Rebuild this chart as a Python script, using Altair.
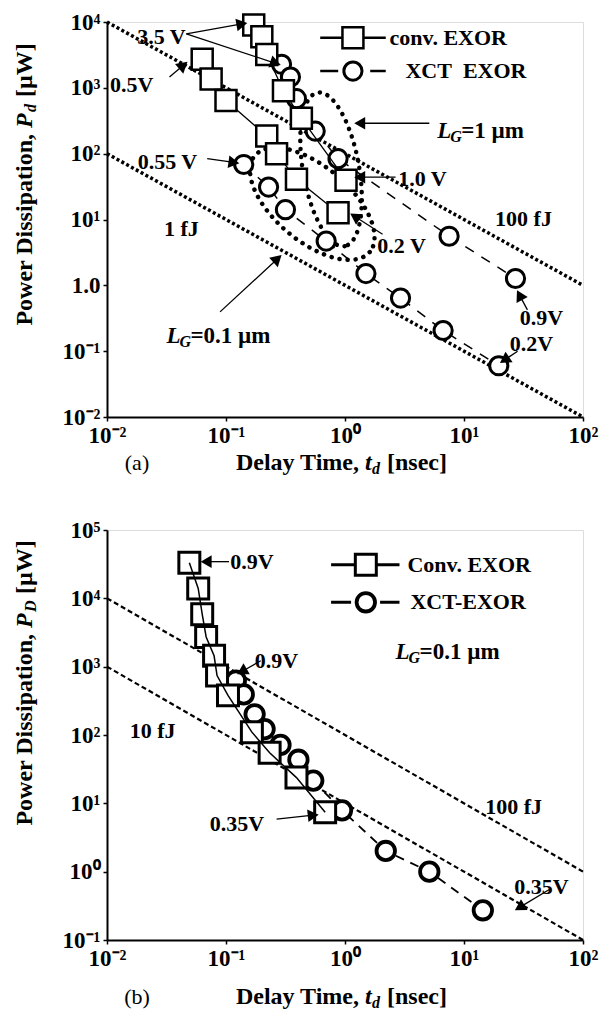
import math
import altair as alt
import pandas as pd

FONT = "Liberation Serif"

# ---------------- Panel (a) data ----------------
a_conv1_t = [0.171, 0.200, 0.220, 0.304, 0.430, 1.02]
a_conv1_p = [9020, 5970, 3215, 902, 345, 39.5]
a_conv01_t = [0.0631, 0.075, 0.100, 0.220, 0.266, 0.391, 0.874]
a_conv01_p = [2710, 1363, 640, 186, 100, 40.9, 12.7]
a_xct1_t = [0.293, 0.348, 0.391, 0.562, 0.874, 7.50, 27.1]
a_xct1_p = [2280, 1459, 685, 220, 84, 5.57, 1.27]
a_xct01_t = [0.141, 0.228, 0.316, 0.695, 1.50, 2.93, 6.68, 19.6]
a_xct01_p = [68.5, 31.1, 14.1, 4.7, 1.51, 0.64, 0.206, 0.060]

energy_t = [0.01, 100]
a_100fJ_p = [10000, 1]
a_1fJ_p = [100, 0.01]

# ---------------- Panel (b) data ----------------
b_conv_t = [0.0492, 0.0584, 0.0631, 0.0681, 0.0794, 0.0841, 0.1039, 0.165, 0.2326, 0.391, 0.681]
b_conv_p = [33200, 13960, 5860, 2720, 1443, 741, 380, 110, 54.8, 23.8, 7.4]
b_xct_t = [0.121, 0.141, 0.174, 0.211, 0.287, 0.406, 0.541, 0.944, 2.20, 5.11, 14.4]
b_xct_p = [627, 393, 201, 122, 71.6, 43.5, 21.5, 7.9, 2.01, 1.0, 0.272]
b_100fJ_p = [10000, 1]
b_10fJ_p = [1000, 0.1]

# ---------------- ticks ----------------
x_ticks = [0.01, 0.1, 1, 10, 100]
x_tick_labels = ["10⁻²", "10⁻¹", "10⁰", "10¹", "10²"]
a_y_ticks = [0.01, 0.1, 1, 10, 100, 1000, 10000]
a_y_tick_labels = ["10⁻²", "10⁻¹", "1.0", "10¹", "10²", "10³", "10⁴"]
b_y_ticks = [0.1, 1, 10, 100, 1000, 10000, 100000]
b_y_tick_labels = ["10⁻¹", "10⁰", "10¹", "10²", "10³", "10⁴", "10⁵"]

# ---------------- annotations (data coordinates) ----------------
a_note_text = ["3.5 V", "0.5V", "0.55 V", "1 fJ", "1.0 V", "0.2 V", "100 fJ", "0.9V", "0.2V"]
a_note_t = [0.0287, 0.01616, 0.0322, 0.0422, 4.47, 2.99, 31.6, 44.7, 36.9]
a_note_p = [5970, 1110, 73.5, 7.1, 40.9, 3.95, 10.35, 0.321, 0.127]

a_arrow_t0 = [0.0464, 0.0464, 0.0335, 0.0695, 5.11, 2.66, 2.07, 34.1, 28.2, 0.0891]
a_arrow_p0 = [6620, 6620, 1459, 84.1, 290, 43.9, 5.97, 0.424, 0.1, 0.395]
a_arrow_t1 = [0.136, 0.261, 0.0438, 0.1166, 1.33, 1.33, 1.21, 29.3, 21.9, 0.271]
a_arrow_p1 = [9330, 2360, 2200, 73.5, 290, 43.9, 11.1, 0.71, 0.0734, 2.53]

a_lg_sub = ["G", "G"]
a_lg_rest = ["=1 µm", "=0.1 µm"]
a_lg_t = [5.96, 0.0316]
a_lg_p = [220, 0.1675]

a_ell_t = [0.764, 0.531]
a_ell_p = [57.7, 17.3]

a_leg_labels = ["conv. EXOR", "XCT\u00a0\u00a0EXOR"]
a_leg_t0 = [0.619, 0.619]
a_leg_t1 = [2.20, 2.20]
a_leg_tm = [1.166, 1.166]
a_leg_tt = [2.37, 3.22]
a_leg_p = [5770, 1795]

b_note_text = ["0.9V", "0.9V", "0.35V", "10 fJ", "100 fJ", "0.35V"]
b_note_t = [0.165, 0.266, 0.1235, 0.0242, 26.1, 44.7]
b_note_p = [34400, 1222, 4.97, 114, 8.75, 0.606]

b_arrow_t0 = [0.106, 0.196, 0.266, 52.1]
b_arrow_p0 = [34400, 1222, 5.86, 0.548]
b_arrow_t1 = [0.0681, 0.136, 0.541, 29.3]
b_arrow_p1 = [34400, 848, 6.70, 0.30]

b_lg_sub = ["G"]
b_lg_rest = ["=0.1 µm"]
b_lg_t = [2.66]
b_lg_p = [1648]

b_leg_labels = ["Conv. EXOR", "XCT-EXOR"]
b_leg_t0 = [0.764, 0.764]
b_leg_t1 = [2.87, 2.87]
b_leg_tm = [1.496, 1.496]
b_leg_tt = [3.35, 3.55]
b_leg_p = [31100, 8750]

# ---------------- layout / style ----------------
W = 476
HA = 395
HB = 410
X_DOM = [0.01, 100]
A_DOM = [0.01, 10000]
B_DOM = [0.1, 100000]
TICK_FS = 23
TITLE_FS = 24
NOTE_FS = 22
SUB_FS = 16


def label_expr(values, labels):
    expr = f"'{labels[-1]}'"
    for v, l in reversed(list(zip(values[:-1], labels[:-1]))):
        expr = f"datum.value < {v * math.sqrt(10):.6g} ? '{l}' : ({expr})"
    return expr


def make_axis(values, labels):
    return alt.Axis(values=values, labelExpr=label_expr(values, labels), title=None, grid=False,
                    ticks=True, tickSize=4, tickColor="black", tickWidth=1.5,
                    domainColor="black", domainWidth=2, labelFont=FONT, labelFontSize=TICK_FS,
                    labelFontWeight="bold", labelColor="black", labelPadding=3,
                    labelFlush=False, labelOverlap=False)


def to_px(t, p, ydom, h):
    x = W * (math.log10(t) - math.log10(X_DOM[0])) / (math.log10(X_DOM[1]) - math.log10(X_DOM[0]))
    lo, hi = math.log10(ydom[0]), math.log10(ydom[1])
    y = h * (hi - math.log10(p)) / (hi - lo)
    return x, y


def ellipse_path(ratio, deg, n=72):
    th = math.radians(deg)
    pts = []
    for i in range(n):
        a = 2 * math.pi * i / n
        x, y = math.cos(a), ratio * math.sin(a)
        pts.append(f"{x * math.cos(th) - y * math.sin(th):.4f},{x * math.sin(th) + y * math.cos(th):.4f}")
    return "M" + " L".join(pts) + " Z"


def txt(s, x, y, angle=0, align="left", dx=0, dy=0, italic=False, size=TITLE_FS, weight="bold"):
    return alt.Chart(pd.DataFrame({"s": [s]})).mark_text(
        font=FONT, fontSize=size, fontWeight=weight, fontStyle="italic" if italic else "normal",
        align=align, baseline="middle", angle=angle, dx=dx, dy=dy, color="black"
    ).encode(x=alt.value(x), y=alt.value(y), text="s:N")


def build_panel(cfg):
    xs = alt.Scale(type="log", domain=X_DOM)
    ys = alt.Scale(type="log", domain=cfg["ydom"])
    xa = make_axis(x_ticks, x_tick_labels)
    ya = make_axis(cfg["yticks"], cfg["ylabels"])

    def X(f):
        return alt.X(f"{f}:Q", scale=xs, axis=xa)

    def Y(f):
        return alt.Y(f"{f}:Q", scale=ys, axis=ya)

    layers = []
    # iso-energy lines
    for pvals in cfg["energy"]:
        df = pd.DataFrame({"t": energy_t, "P": pvals})
        layers.append(alt.Chart(df).mark_line(color="black", **cfg["energy_style"]).encode(x=X("t"), y=Y("P")))
    # dotted ellipses
    for i, (ratio, deg, semi) in enumerate(cfg.get("ellipses", [])):
        df = pd.DataFrame({"t": [a_ell_t[i]], "P": [a_ell_p[i]]})
        layers.append(alt.Chart(df).mark_point(
            shape=ellipse_path(ratio, deg), size=(2 * semi) ** 2, filled=False, color="black",
            strokeWidth=4.5, strokeDash=[0.1, 8], strokeCap="round", opacity=1
        ).encode(x=X("t"), y=Y("P")))

    # series
    for s in cfg["series"]:
        df = pd.DataFrame({"t": s["t"], "P": s["p"]})
        lkw = dict(color="black", strokeWidth=s["lw"])
        if s.get("dash"):
            lkw["strokeDash"] = s["dash"]
        line = alt.Chart(df).mark_line(**lkw).encode(x=X("t"), y=Y("P"))
        pts = alt.Chart(df).mark_point(shape=s["shape"], size=s["size"], filled=True, fill="white",
                                       stroke="black", strokeWidth=s["sw"], opacity=1
                                       ).encode(x=X("t"), y=Y("P"))
        if s.get("line_on_top"):
            layers += [pts, line]
        else:
            layers += [line, pts]

    # arrows
    t0, p0, t1, p1 = cfg["arrows"]
    angs = []
    for a, b, c, d in zip(t0, p0, t1, p1):
        x0, y0 = to_px(a, b, cfg["ydom"], cfg["h"])
        x1, y1 = to_px(c, d, cfg["ydom"], cfg["h"])
        angs.append(math.degrees(math.atan2(y1 - y0, x1 - x0)) % 360)
    adf = pd.DataFrame({"t0": t0, "p0": p0, "t1": t1, "p1": p1, "ang": angs})
    layers.append(alt.Chart(adf).mark_rule(color="black", strokeWidth=1.3).encode(
        x=X("t0"), y=Y("p0"), x2=alt.X2("t1:Q"), y2=alt.Y2("p1:Q")))
    layers.append(alt.Chart(adf).mark_point(shape="triangle-right", filled=True, color="black",
                                            size=160, opacity=1).encode(
        x=X("t1"), y=Y("p1"), angle=alt.Angle("ang:Q", scale=None)))

    # notes
    ndf = pd.DataFrame({"t": cfg["notes"][0], "P": cfg["notes"][1], "s": cfg["notes"][2]})
    layers.append(alt.Chart(ndf).mark_text(font=FONT, fontSize=NOTE_FS, fontWeight="bold",
                                           align="center", baseline="middle", color="black"
                                           ).encode(x=X("t"), y=Y("P"), text="s:N"))
    # L_G labels
    lt, lp, lsub, lrest = cfg["lg"]
    ldf = pd.DataFrame({"t": lt, "P": lp, "sub": lsub, "rest": lrest, "L": ["L"] * len(lt)})
    common = dict(font=FONT, fontWeight="bold", baseline="middle", align="left", color="black")
    layers.append(alt.Chart(ldf).mark_text(fontSize=NOTE_FS + 1, fontStyle="italic", **common)
                  .encode(x=X("t"), y=Y("P"), text="L:N"))
    layers.append(alt.Chart(ldf).mark_text(fontSize=SUB_FS, fontStyle="italic", dx=13, dy=6, **common)
                  .encode(x=X("t"), y=Y("P"), text="sub:N"))
    layers.append(alt.Chart(ldf).mark_text(fontSize=NOTE_FS + 1, dx=24, **common)
                  .encode(x=X("t"), y=Y("P"), text="rest:N"))

    # legend
    lg = cfg["legend"]
    gdf = pd.DataFrame({"t0": lg["t0"], "t1": lg["t1"], "tm": lg["tm"], "tt": lg["tt"],
                        "P": lg["p"], "s": lg["labels"]})
    for i, st in enumerate(lg["styles"]):
        row = gdf.iloc[[i]]
        rkw = dict(color="black", strokeWidth=st["lw"])
        if st.get("dash"):
            rkw["strokeDash"] = st["dash"]
        layers.append(alt.Chart(row).mark_rule(**rkw).encode(x=X("t0"), x2=alt.X2("t1:Q"), y=Y("P")))
        layers.append(alt.Chart(row).mark_point(shape=st["shape"], size=st["size"], filled=True,
                                                fill="white", stroke="black", strokeWidth=st["sw"],
                                                opacity=1).encode(x=X("tm"), y=Y("P")))
    layers.append(alt.Chart(gdf).mark_text(font=FONT, fontSize=NOTE_FS, fontWeight="bold", align="left",
                                           baseline="middle", color="black"
                                           ).encode(x=X("tt"), y=Y("P"), text="s:N"))

    # axis titles (composed for italics / subscripts)
    h = cfg["h"]
    yy = cfg["ytitle_y"]
    layers += [
        txt("Power Dissipation,", -82, yy, angle=270, align="right", dx=-6),
        txt("P", -82, yy, angle=270, align="left", italic=True),
        txt(cfg["ysub"], -82, yy, angle=270, align="left", dx=16, dy=6, italic=True, size=SUB_FS),
        txt("[µW]", -82, yy, angle=270, align="left", dx=cfg["ysub_w"] + 22),
    ]
    xy = h + cfg["xtitle_dy"]
    layers += [
        txt("Delay Time,", 258, xy, align="right", dx=-6),
        txt("t", 258, xy, italic=True),
        txt("d", 258, xy, dx=7, dy=6, italic=True, size=SUB_FS),
        txt("[nsec]", 258, xy, dx=22),
        txt(cfg["tag"], 30, xy, align="center", weight="normal", size=22),
    ]
    return alt.layer(*layers).properties(width=W, height=h)


panel_a = build_panel(dict(
    ydom=A_DOM, h=HA, yticks=a_y_ticks, ylabels=a_y_tick_labels,
    energy=[a_100fJ_p, a_1fJ_p], energy_style=dict(strokeWidth=3.5, strokeDash=[3, 2.5]),
    ellipses=[(0.36, 80, 78), (0.5, 40, 75)],
    series=[
        dict(t=a_xct1_t, p=a_xct1_p, shape="circle", size=330, sw=3, lw=1.5, dash=[10, 9]),
        dict(t=a_xct01_t, p=a_xct01_p, shape="circle", size=330, sw=3, lw=1.5, dash=[10, 9]),
        dict(t=a_conv1_t, p=a_conv1_p, shape="square", size=440, sw=2.5, lw=1.3),
        dict(t=a_conv01_t, p=a_conv01_p, shape="square", size=440, sw=2.5, lw=1.3),
    ],
    arrows=(a_arrow_t0, a_arrow_p0, a_arrow_t1, a_arrow_p1),
    notes=(a_note_t, a_note_p, a_note_text),
    lg=(a_lg_t, a_lg_p, a_lg_sub, a_lg_rest),
    legend=dict(t0=a_leg_t0, t1=a_leg_t1, tm=a_leg_tm, tt=a_leg_tt, p=a_leg_p, labels=a_leg_labels,
                styles=[dict(lw=2.5, shape="square", size=440, sw=2.5),
                        dict(lw=2.5, dash=[18, 32], shape="circle", size=330, sw=3)]),
    ytitle_y=106, ysub="d", ysub_w=9, xtitle_dy=46, tag="(a)",
))

panel_b = build_panel(dict(
    ydom=B_DOM, h=HB, yticks=b_y_ticks, ylabels=b_y_tick_labels,
    energy=[b_100fJ_p, b_10fJ_p], energy_style=dict(strokeWidth=2.2, strokeDash=[5, 3]),
    series=[
        dict(t=b_xct_t, p=b_xct_p, shape="circle", size=340, sw=3.8, lw=1.8, dash=[9, 7]),
        dict(t=b_conv_t, p=b_conv_p, shape="square", size=440, sw=3, lw=1.5, line_on_top=True),
    ],
    arrows=(b_arrow_t0, b_arrow_p0, b_arrow_t1, b_arrow_p1),
    notes=(b_note_t, b_note_p, b_note_text),
    lg=(b_lg_t, b_lg_p, b_lg_sub, b_lg_rest),
    legend=dict(t0=b_leg_t0, t1=b_leg_t1, tm=b_leg_tm, tt=b_leg_tt, p=b_leg_p, labels=b_leg_labels,
                styles=[dict(lw=3, shape="square", size=440, sw=3),
                        dict(lw=3, dash=[20, 29], shape="circle", size=340, sw=3.8)]),
    ytitle_y=98, ysub="D", ysub_w=12, xtitle_dy=57, tag="(b)",
))

chart = alt.vconcat(panel_a, panel_b, spacing=40).resolve_scale(
    x="independent", y="independent"
).properties(
    padding={"left": 4, "top": 0, "right": 0, "bottom": 1}
).configure_view(stroke="black", strokeWidth=2).configure(background="white")

chart.save("out.html", embed_options={"renderer": "svg", "actions": False})
